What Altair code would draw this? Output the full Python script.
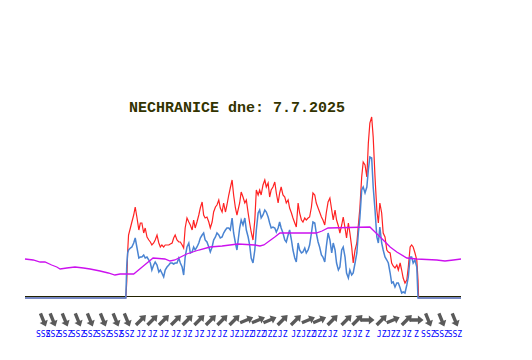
import altair as alt
import pandas as pd

TITLE = "NECHRANICE dne: 7.7.2025"

# time in minutes after midnight, gusts (red) and mean wind (blue)
cas = [0, 333, 336, 339, 342, 348, 353, 359, 364, 370, 376, 381, 386, 392, 397, 403, 409, 414, 419, 425,
       430, 436, 442, 447, 452, 458, 463, 469, 475, 480, 486, 491, 496, 502, 508, 513, 519, 524, 529, 535,
       541, 546, 552, 557, 562, 568, 574, 579, 585, 590, 595, 601, 607, 612, 618, 623, 629, 634, 640, 645,
       651, 656, 662, 667, 673, 678, 684, 689, 695, 700, 709, 714, 720, 726, 731, 737, 742, 747, 753, 759,
       764, 770, 775, 780, 786, 792, 797, 803, 808, 813, 819, 825, 830, 836, 841, 846, 852, 858, 863, 869,
       874, 880, 885, 891, 896, 902, 907, 913, 918, 924, 929, 935, 940, 946, 951, 957, 962, 968, 973, 979,
       984, 990, 995, 1001, 1007, 1013, 1018, 1024, 1029, 1035, 1040, 1046, 1051, 1057, 1062, 1068, 1073, 1079, 1084, 1090,
       1096, 1101, 1106, 1112, 1117, 1123, 1129, 1134, 1139, 1145, 1150, 1156, 1162, 1167, 1172, 1178, 1183, 1189, 1195, 1200,
       1206, 1211, 1216, 1222, 1228, 1233, 1239, 1244, 1249, 1255, 1261, 1266, 1272, 1277, 1282, 1288, 1294, 1298, 1300, 1440]

naraz = [0, 0, 1.6, 4.6, 6.3, 7.0, 7.6, 8.3, 9.1, 8.0, 6.8, 7.5, 7.5, 6.5, 7.0, 6.1, 5.8, 5.6, 5.3, 5.5,
         5.8, 6.3, 5.5, 5.1, 5.3, 5.1, 5.3, 5.3, 5.3, 5.4, 5.5, 6.0, 6.3, 5.8, 5.6, 5.6, 5.3, 5.0, 7.0, 8.0,
         7.6, 7.3, 6.8, 7.8, 7.0, 7.6, 8.3, 9.0, 9.6, 8.3, 8.0, 8.1, 7.6, 7.0, 7.6, 8.6, 9.1, 9.3, 9.8, 9.0,
         8.6, 9.5, 8.6, 9.3, 10.3, 11.0, 11.8, 10.3, 9.0, 8.3, 9.5, 10.6, 10.1, 9.5, 9.8, 8.5, 7.5, 6.6, 5.8, 7.8,
         10.8, 10.3, 10.8, 10.3, 11.3, 11.8, 11.1, 11.5, 10.1, 10.8, 11.1, 11.6, 10.5, 9.5, 10.5, 11.1, 10.3, 10.1, 9.5, 9.8,
         9.0, 8.5, 8.0, 7.5, 7.1, 9.5, 8.5, 7.8, 7.6, 8.0, 7.8, 8.0, 8.1, 9.1, 10.5, 10.3, 9.5, 9.0, 8.6, 8.1,
         7.8, 7.3, 8.5, 9.6, 10.0, 8.8, 7.8, 8.8, 7.8, 7.2, 6.5, 7.3, 8.1, 7.0, 6.0, 7.5, 6.5, 5.1, 3.5, 4.8,
         5.5, 7.3, 9.0, 12.1, 13.6, 13.3, 12.1, 15.5, 17.5, 18.1, 16.1, 12.1, 8.8, 7.5, 9.5, 8.5, 6.5, 6.1, 4.8, 4.6,
         4.5, 3.5, 3.2, 3.0, 3.3, 2.8, 3.5, 2.8, 2.0, 1.5, 1.8, 3.1, 5.1, 5.3, 5.1, 4.5, 3.8, 1.8, 0, 0]

rychlost = [0, 0, 3.2, 4.5, 4.8, 5.0, 5.1, 5.5, 6.0, 5.0, 4.0, 4.1, 4.1, 4.3, 4.0, 4.1, 3.8, 3.5, 2.8, 3.3,
            3.6, 3.3, 2.6, 2.8, 2.5, 2.1, 2.8, 3.1, 3.3, 3.5, 3.5, 3.4, 3.5, 3.5, 4.0, 3.5, 3.1, 2.3, 4.1, 5.1,
            5.5, 4.5, 4.6, 5.1, 4.8, 5.1, 5.5, 6.0, 6.3, 6.5, 5.8, 5.6, 5.1, 4.6, 5.1, 5.8, 6.1, 6.5, 6.3, 6.0,
            6.1, 6.5, 6.8, 7.0, 7.0, 6.8, 8.0, 6.5, 5.5, 4.8, 7.0, 7.8, 7.3, 8.0, 6.8, 6.1, 5.3, 4.0, 3.5, 4.8,
            6.8, 8.5, 8.8, 8.0, 8.3, 8.8, 8.6, 8.1, 7.5, 7.0, 7.1, 7.0, 6.6, 7.0, 7.6, 7.0, 6.5, 5.8, 5.6, 6.3,
            6.8, 5.8, 4.8, 4.0, 3.6, 5.5, 4.8, 4.5, 4.6, 5.0, 4.5, 4.8, 5.3, 6.5, 7.6, 7.5, 6.5, 5.6, 5.1, 4.3,
            4.1, 3.6, 5.1, 6.5, 5.8, 4.5, 5.5, 4.8, 3.5, 2.8, 3.1, 4.8, 5.1, 4.1, 2.5, 2.0, 2.8, 2.3, 2.5, 3.5,
            4.5, 6.5, 8.0, 10.8, 11.1, 10.5, 11.1, 12.8, 14.1, 14.0, 11.1, 8.8, 6.1, 5.5, 7.1, 5.5, 4.8, 4.1, 3.8, 3.5,
            2.5, 1.5, 1.6, 1.1, 1.5, 1.5, 1.0, 0.5, 0.6, 0.5, 1.3, 2.1, 4.1, 4.1, 3.5, 3.8, 3.1, 0, 0, 0]

# magenta curve
cas_t = [0, 27, 50, 66, 88, 105, 116, 138, 165, 193, 215, 248, 275, 297, 314, 336, 359, 391, 423, 462,
         479, 495, 534, 574, 611, 651, 703, 759, 776, 789, 825, 842, 962, 981, 1001, 1139, 1156, 1183, 1206, 1228,
         1261, 1294, 1360, 1387, 1415, 1440]
teplota = [3.9, 3.8, 3.6, 3.6, 3.3, 3.1, 2.9, 3.0, 3.1, 3.0, 2.9, 2.7, 2.5, 2.3, 2.4, 2.4, 2.4, 3.2, 4.0, 3.9,
           3.7, 3.8, 4.4, 4.8, 5.1, 5.2, 5.4, 5.3, 5.2, 5.3, 6.1, 6.5, 6.5, 6.7, 7.0, 7.1, 6.6, 5.8, 5.1, 4.6,
           4.0, 3.9, 3.8, 3.7, 3.8, 3.9]

# wind direction readings
cas_smer = [60, 92, 132, 175, 215, 258, 300, 337, 383, 421, 459, 499, 537, 576, 614, 652, 692, 732, 771, 809,
            851, 895, 936, 973, 1016, 1062, 1098, 1131, 1178, 1216, 1261, 1293, 1332, 1376, 1420]
smer = ["SSZ", "SSZ", "SSZ", "SSZ", "SSZ", "SSZ", "SSZ", "SSZ", "JZ", "JZ", "JZ", "JZ", "JZ", "JZ", "JZ", "JZ", "JZ",
        "JZZ", "JZZ", "JZZ", "JZ", "JZ", "JZZ", "JZZ", "JZ", "JZ", "JZ", "Z", "JZ", "JZZ", "JZ", "Z", "SSZ", "SSZ", "SSZ"]
ODKUD = {"SSZ": 337.5, "JZ": 225.0, "JZZ": 247.5, "Z": 270.0}

df = pd.DataFrame({"t": cas, "naraz": naraz, "rychlost": rychlost})
df_t = pd.DataFrame({"t": cas_t, "teplota": teplota})
df_s = pd.DataFrame({"t": cas_smer, "smer": smer})
df_s["uhel"] = df_s["smer"].map(lambda s: (ODKUD[s] + 180.0) % 360.0)

ARROW = "M-0.24,1 L0.24,1 L0.24,-0.2 L0.62,-0.2 L0,-1 L-0.62,-0.2 L-0.24,-0.2 Z"

xs = alt.Scale(domain=[0, 1440], nice=False, zero=False)
ys = alt.Scale(domain=[0, 19], nice=False, zero=True)

def X():
    return alt.X("t:Q", scale=xs, axis=None)

base = alt.Chart(pd.DataFrame({"v": [0]})).mark_rule(color="#222200", strokeWidth=1, yOffset=-1.5).encode(
    y=alt.Y("v:Q", scale=ys, axis=None))

red = alt.Chart(df).mark_line(color="#ff2222", strokeWidth=1.2).encode(
    x=X(), y=alt.Y("naraz:Q", scale=ys, axis=None))
blue = alt.Chart(df).mark_line(color="#4a84d2", strokeWidth=1.5).encode(
    x=X(), y=alt.Y("rychlost:Q", scale=ys, axis=None))
mag = alt.Chart(df_t).mark_line(color="#cc11ee", strokeWidth=1.3).encode(
    x=X(), y=alt.Y("teplota:Q", scale=ys, axis=None))

arrows = alt.Chart(df_s).mark_point(shape=ARROW, filled=True, size=200, color="#5a5a5a", opacity=1).encode(
    x=X(), y=alt.value(212), angle=alt.Angle("uhel:Q", scale=None))
labels = alt.Chart(df_s).mark_text(font="DejaVu Sans Mono", fontSize=8, color="#0000ff",
                                   baseline="alphabetic", align="center").encode(
    x=X(), y=alt.value(228.7), text="smer:N")

chart = alt.layer(base, red, blue, mag, arrows, labels).properties(
    width=436, height=190,
    padding={"left": 17, "top": 100, "right": 63, "bottom": 50},
    autosize=alt.AutoSizeParams(type="none"),
    background="white",
    title=alt.TitleParams(TITLE, font="Liberation Mono", fontSize=15, fontWeight="bold",
                          color="#333300", anchor="middle", dx=-6, offset=0, dy=19,
                          baseline="alphabetic"),
).configure_view(strokeWidth=0)

chart.save("out.html", embed_options={"renderer": "svg", "actions": False})
